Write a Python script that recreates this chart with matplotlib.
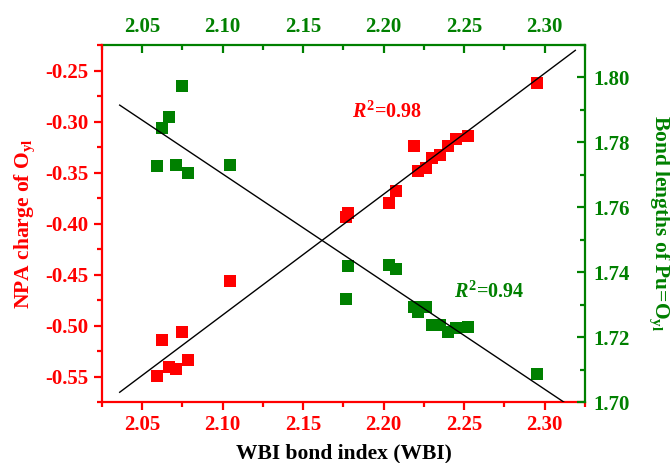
import numpy as np
import matplotlib
matplotlib.use("Agg")
import matplotlib.pyplot as plt
from matplotlib.ticker import MultipleLocator

plt.rcParams['font.family'] = ['Liberation Serif', 'DejaVu Serif']
plt.rcParams['font.weight'] = 'bold'
plt.rcParams['mathtext.fontset'] = 'custom'
plt.rcParams['mathtext.rm'] = 'Liberation Serif:bold'
plt.rcParams['mathtext.it'] = 'Liberation Serif:bold:italic'
plt.rcParams['mathtext.bf'] = 'Liberation Serif:bold'

# WBI bond index
wbi = [2.0594, 2.0623, 2.0667, 2.0710, 2.0748, 2.0783, 2.1044, 2.1765, 2.1775,
       2.2035, 2.2075, 2.2190, 2.2215, 2.2260, 2.2300, 2.2350, 2.2398, 2.2450,
       2.2523, 2.2950]
# NPA charge of O_yl
npa = [-0.5497, -0.5144, -0.5405, -0.5425, -0.5062, -0.5340, -0.4566, -0.3940, -0.3895,
       -0.3797, -0.3683, -0.3240, -0.3487, -0.3454, -0.3356, -0.3330, -0.3242, -0.3176,
       -0.3144, -0.2620]
# Bond lengths of Pu=O_yl
bond = [1.7726, 1.7844, 1.7878, 1.7731, 1.7975, 1.7707, 1.7731, 1.7316, 1.7419,
        1.7422, 1.7410, 1.7293, 1.7278, 1.7293, 1.7237, 1.7237, 1.7216, 1.7227,
        1.7231, 1.7085]

RED = '#ff0000'
GREEN = '#008000'

fig = plt.figure(figsize=(6.7, 4.63), dpi=100)
ax = fig.add_axes([0.1522, 0.1317, 0.8731 - 0.1522, 0.9028 - 0.1317])
ax2 = ax.twinx()

x = np.array(wbi)
# linear fits
pr = np.polyfit(x, np.array(npa), 1)
pg = np.polyfit(x, np.array(bond), 1)
xf = np.array([2.036, 2.319])

ax.plot(xf, np.polyval(pr, xf), color='black', lw=1.0, zorder=3)
ax2.plot(xf, np.polyval(pg, xf), color='black', lw=1.0, zorder=3)
ax.plot(wbi, npa, 's', color=RED, ms=8.7, mew=0, zorder=2)
ax2.plot(wbi, bond, 's', color=GREEN, ms=8.7, mew=0, zorder=2)

ax.set_xlim(2.025, 2.325)
ax.set_ylim(-0.575, -0.225)
ax2.set_ylim(1.70, 1.81)

ax.xaxis.set_major_locator(MultipleLocator(0.05))
ax.xaxis.set_minor_locator(MultipleLocator(0.025))
ax.yaxis.set_major_locator(MultipleLocator(0.05))
ax.yaxis.set_minor_locator(MultipleLocator(0.025))
ax2.yaxis.set_major_locator(MultipleLocator(0.02))
ax2.yaxis.set_minor_locator(MultipleLocator(0.01))

ax.xaxis.set_major_formatter(plt.FormatStrFormatter('%.2f'))
ax.yaxis.set_major_formatter(plt.FormatStrFormatter('%.2f'))
ax2.yaxis.set_major_formatter(plt.FormatStrFormatter('%.2f'))

lw = 1.6
for s in ['left', 'bottom']:
    ax.spines[s].set_color(RED)
    ax.spines[s].set_linewidth(lw)
ax.spines['top'].set_visible(False)
ax.spines['right'].set_visible(False)
for s in ['left', 'bottom', 'top']:
    ax2.spines[s].set_visible(False)
ax2.spines['right'].set_color(GREEN)
ax2.spines['right'].set_linewidth(lw)

fs_tick = 15
ax.tick_params(axis='both', which='major', direction='out', length=6, width=lw,
               colors=RED, labelsize=fs_tick, top=False, right=False)
ax.tick_params(axis='both', which='minor', direction='out', length=3.5, width=lw,
               colors=RED, top=False, right=False)
ax2.tick_params(axis='y', which='major', direction='in', length=6, width=lw,
                colors=GREEN, labelsize=fs_tick, pad=6)
ax2.tick_params(axis='y', which='minor', direction='in', length=3.5, width=lw,
                colors=GREEN)

secx = ax.secondary_xaxis('top')
secx.xaxis.set_major_locator(MultipleLocator(0.05))
secx.xaxis.set_minor_locator(MultipleLocator(0.025))
secx.xaxis.set_major_formatter(plt.FormatStrFormatter('%.2f'))
secx.spines['top'].set_color(GREEN)
secx.spines['top'].set_linewidth(lw)
secx.tick_params(axis='x', which='major', direction='in', length=6, width=lw,
                 colors=GREEN, labelsize=fs_tick, pad=6)
secx.tick_params(axis='x', which='minor', direction='in', length=3.5, width=lw,
                 colors=GREEN)

for lab in ax.get_xticklabels() + ax.get_yticklabels() + ax2.get_yticklabels() + secx.get_xticklabels():
    lab.set_fontweight('bold')

fs_lab = 15.5
ax.set_xlabel('WBI bond index (WBI)', fontsize=fs_lab, fontweight='bold', color='black', labelpad=6)
ax.set_ylabel('NPA charge of O$_{\\mathrm{yl}}$', fontsize=fs_lab, fontweight='bold', color=RED, labelpad=6)
ax2.set_ylabel('Bond lengths of Pu=O$_{\\mathrm{yl}}$', fontsize=fs_lab, fontweight='bold',
               color=GREEN, rotation=270, labelpad=30)

ax.text(2.1806, -0.2912, '$R^2$=0.98', color=RED, fontsize=14.5, fontweight='bold', ha='left', va='center')
ax2.text(2.2438, 1.7339, '$R^2$=0.94', color=GREEN, fontsize=14.5, fontweight='bold', ha='left', va='center')

fig.savefig('out.png', dpi=100)
